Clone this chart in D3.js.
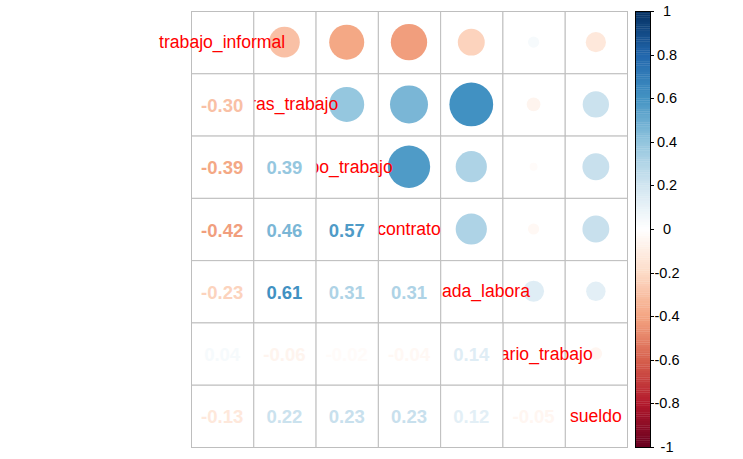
<!DOCTYPE html>
<html>
<head>
<meta charset="utf-8">
<script src="https://cdn.jsdelivr.net/npm/d3@7"></script>
<style>
body{margin:0;background:#fff;}
text{font-family:Arial,"Liberation Sans",sans-serif;}
</style>
</head>
<body>
<div id="graph"></div>
<script>
// variables (diagonal labels)
vars=["trabajo_informal","horas_trabajo","tipo_trabajo","contrato","jornada_labora","horario_trabajo","sueldo"];

// lower triangle of the correlation matrix, row by row
corrLower=[
	[],
	[-0.30],
	[-0.39,0.39],
	[-0.42,0.46,0.57],
	[-0.23,0.61,0.31,0.31],
	[0.04,-0.06,-0.02,-0.04,0.14],
	[-0.13,0.22,0.23,0.23,0.12,-0.05]
];

// colour legend ticks
legendTicks=[-1,-0.8,-0.6,-0.4,-0.2,0,0.2,0.4,0.6,0.8,1];
legendLabels=["-1","-0.8","-0.6","-0.4","-0.2","0","0.2","0.4","0.6","0.8","1"];

palette=["#67001F","#B2182B","#D6604D","#F4A582","#FDDBC7","#FFFFFF","#D1E5F0","#92C5DE","#4393C3","#2166AC","#053061"];

width=743;
height=459;
gridLeft=191;
gridRight=627;
gridTop=11;
gridBottom=447;

// value of cell (row i, col j), symmetric matrix
corrAt=function(i,j){
	if(i==j)return 1;
	return i>j?corrLower[i][j]:corrLower[j][i];
};

cells=[];
for(var i=0;i<vars.length;i++){
	for(var j=0;j<vars.length;j++){
		cells.push({row:i,col:j,v:corrAt(i,j)});
	}
}

color=d3.scaleLinear()
	.domain(d3.range(palette.length).map(function(k){return -1+2*k/(palette.length-1)}))
	.range(palette);

x=d3.scaleBand().domain(d3.range(vars.length)).range([gridLeft,gridRight]);
y=d3.scaleBand().domain(d3.range(vars.length)).range([gridTop,gridBottom]);
bw=x.bandwidth();
rScale=d3.scaleSqrt().domain([0,1]).range([0,bw/2*0.9]);

svg=d3.select("#graph").append("svg").attr("width",width).attr("height",height);

// upper triangle + diagonal backgrounds
upper=cells.filter(function(d){return d.col>=d.row});
lower=cells.filter(function(d){return d.col<d.row});

svg.append("g").selectAll("rect").data(upper).enter().append("rect")
	.attr("x",function(d){return x(d.col)+0.5})
	.attr("y",function(d){return y(d.row)+0.5})
	.attr("width",bw).attr("height",bw)
	.attr("fill","#fff").attr("stroke","#BEBEBE").attr("stroke-width",1);

// circles
svg.append("g").selectAll("circle").data(upper.filter(function(d){return d.col>d.row})).enter().append("circle")
	.attr("cx",function(d){return x(d.col)+bw/2})
	.attr("cy",function(d){return y(d.row)+bw/2})
	.attr("r",function(d){return rScale(Math.abs(d.v))})
	.attr("fill",function(d){return color(d.v)});

// diagonal labels
svg.append("g").selectAll("text").data(vars).enter().append("text")
	.text(function(d){return d})
	.attr("x",function(d,i){return x(i)+bw/2})
	.attr("y",function(d,i){return y(i)+bw/2})
	.attr("text-anchor","middle")
	.attr("dominant-baseline","central")
	.attr("font-size",17.6)
	.attr("fill","#FF0000");

// lower triangle cells cover the labels
svg.append("g").selectAll("rect").data(lower).enter().append("rect")
	.attr("x",function(d){return x(d.col)+0.5})
	.attr("y",function(d){return y(d.row)+0.5})
	.attr("width",bw).attr("height",bw)
	.attr("fill","#fff").attr("stroke","#BEBEBE").attr("stroke-width",1);

svg.append("g").selectAll("text").data(lower).enter().append("text")
	.text(function(d){return d.v.toFixed(2)})
	.attr("x",function(d){return x(d.col)+bw/2})
	.attr("y",function(d){return y(d.row)+bw/2+1})
	.attr("text-anchor","middle")
	.attr("dominant-baseline","central")
	.attr("font-size",18.5)
	.attr("font-weight","bold")
	.attr("fill",function(d){return color(d.v)});

// colour legend
barLeft=635;
barW=15;
ly=d3.scaleLinear().domain([-1,1]).range([gridBottom,gridTop]);
steps=d3.range(200).map(function(k){return -1+k*0.01});
svg.append("g").selectAll("rect").data(steps).enter().append("rect")
	.attr("x",barLeft)
	.attr("y",function(d){return ly(d+0.01)})
	.attr("width",barW)
	.attr("height",function(d){return ly(d)-ly(d+0.01)+0.3})
	.attr("fill",function(d){return color(d+0.005)});
svg.append("rect").attr("x",barLeft+0.5).attr("y",gridTop+0.5)
	.attr("width",barW).attr("height",gridBottom-gridTop)
	.attr("fill","none").attr("stroke","#000").attr("stroke-width",1);

gl=svg.append("g").selectAll("g").data(legendTicks).enter().append("g");
gl.append("line")
	.attr("x1",barLeft+barW).attr("x2",barLeft+barW+4)
	.attr("y1",function(d){return Math.round(ly(d))+0.5})
	.attr("y2",function(d){return Math.round(ly(d))+0.5})
	.attr("stroke","#000");
gl.append("text")
	.text(function(d,i){return legendLabels[i]})
	.attr("x",667)
	.attr("y",function(d){return ly(d)})
	.attr("text-anchor","middle")
	.attr("dominant-baseline","central")
	.attr("font-size",14.5)
	.attr("fill","#000");
</script>
</body>
</html>
